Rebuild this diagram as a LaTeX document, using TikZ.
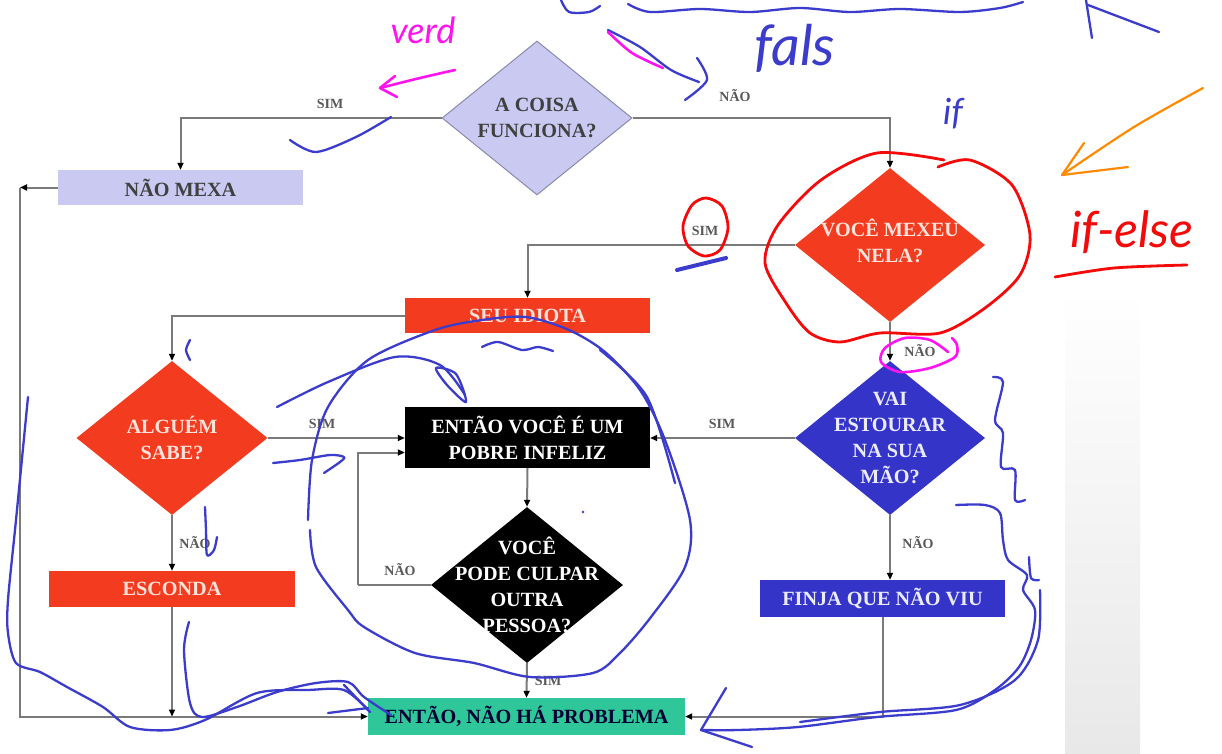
\documentclass[tikz,border=0pt]{standalone}
\usepackage{fontspec}
\setmainfont{Liberation Serif}
\newfontfamily\hand{Lato}
\usetikzlibrary{shapes.geometric,arrows.meta}
\definecolor{lav}{HTML}{C9C9F2}
\definecolor{lavline}{HTML}{8A8AAA}
\definecolor{redb}{HTML}{F23B1F}
\definecolor{blueb}{HTML}{3434C8}
\definecolor{teal}{HTML}{2FC79A}
\definecolor{conncol}{HTML}{7A7A7A}
\definecolor{pen}{HTML}{3C3CCC}
\definecolor{mag}{HTML}{FF14F0}
\definecolor{penred}{HTML}{F50A0A}
\definecolor{penor}{HTML}{FF8A00}
\definecolor{pinkw}{HTML}{FFE2DA}
\tikzset{
  boxsty/.style={rectangle,draw=none,inner sep=0pt},
  diasty/.style={diamond,draw=none,inner sep=0pt},
  big/.style={font=\fontsize{20.2}{26}\selectfont\bfseries,align=center,inner sep=0pt},
  small/.style={font=\fontsize{14}{16}\selectfont\bfseries,text=black!65,inner sep=0pt},
  conn/.style={draw=conncol,line width=2pt,-{Triangle[length=7pt,width=6pt,color=black]}},
  plain/.style={draw=conncol,line width=2pt},
  bluepen/.style={draw=pen,line width=2.3pt,line cap=round,line join=round},
  magpen/.style={draw=mag,line width=2.6pt,line cap=round,line join=round},
  redpen/.style={draw=penred,line width=2.8pt,line cap=round,line join=round},
  orpen/.style={draw=penor,line width=2.2pt,line cap=round,line join=round},
}
\begin{document}
\begin{tikzpicture}[x=1pt,y=-1pt]
\useasboundingbox (0,0) rectangle (1222,754);
\fill[white] (0,0) rectangle (1222,754);
% grey panel on the right
\shade[top color=white,bottom color=black!9] (1065,290) rectangle (1140,754);

% ---------- shapes ----------
\node[diasty,fill=lav,draw=lavline,line width=1pt,minimum width=190pt,minimum height=154pt] (coisa) at (537,118) {};
\node[big,text=black!75] (coisaT) at (coisa.center) {A COISA\\FUNCIONA?};
\node[boxsty,fill=lav,minimum width=245pt,minimum height=35pt] (naomexa) at (180.5,187.5) {};
\node[big,text=black!75] (naomexaT) at (naomexa.center) {NÃO MEXA};

\node[diasty,fill=redb,minimum width=190pt,minimum height=154pt] (mexeu) at (890,245) {};
\node[big,text=pinkw] (mexeuT) at ([yshift=4pt]mexeu.center) {VOCÊ MEXEU\\NELA?};

\node[boxsty,fill=redb,minimum width=245pt,minimum height=35pt] (idiota) at (527.5,315.5) {};
\node[big,text=pinkw] (idiotaT) at (idiota.center) {SEU IDIOTA};

\node[diasty,fill=redb,minimum width=191pt,minimum height=154pt] (alguem) at (172,438) {};
\node[big,text=pinkw] (alguemT) at (alguem.center) {ALGUÉM\\SABE?};

\node[boxsty,fill=black,minimum width=245pt,minimum height=61pt] (infeliz) at (527.5,437.5) {};
\node[big,text=white] (infelizT) at (infeliz.center) {ENTÃO VOCÊ É UM\\POBRE INFELIZ};

\node[diasty,fill=blueb,minimum width=190pt,minimum height=154pt] (vai) at (890,438) {};
\node[big,text=white!92!blue] (vaiT) at (vai.center) {VAI\\ESTOURAR\\NA SUA\\MÃO?};

\node[diasty,fill=black,minimum width=192pt,minimum height=156pt] (culpar) at (527,585) {};
\node[big,text=white] (culparT) at (culpar.center) {VOCÊ\\PODE CULPAR\\OUTRA\\PESSOA?};

\node[boxsty,fill=redb,minimum width=246pt,minimum height=36pt] (esconda) at (172,589) {};
\node[big,text=pinkw] (escondaT) at (esconda.center) {ESCONDA};

\node[boxsty,fill=blueb,minimum width=245pt,minimum height=37pt] (finja) at (882.5,598.5) {};
\node[big,text=white!92!blue] (finjaT) at (finja.center) {FINJA QUE NÃO VIU};

\node[boxsty,fill=teal,minimum width=317pt,minimum height=37pt] (problema) at (526.5,716.5) {};
\node[big,text=black!80!blue] (problemaT) at (problema.center) {ENTÃO, NÃO HÁ PROBLEMA};

% ---------- connectors ----------
\coordinate (cTL) at (20,187.5);
\coordinate (loopx) at (358,585);
\draw[conn] (coisa.west) -| (naomexa.north);
\draw[conn] (coisa.east) -| (mexeu.north);
\draw[conn] (mexeu.west) -| (idiota.north);
\draw[conn] (idiota.west) -| (alguem.north);
\draw[conn] (alguem.east) -- (infeliz.west |- alguem.east);
\draw[conn] (mexeu.south) -- (vai.north);
\draw[conn] (vai.west) -- (infeliz.east |- vai.west);
\draw[conn] (vai.south) -- (vai.south |- finja.north);
\draw[conn] (finja.south) |- (problema.east);
\draw[conn] (infeliz.south) -- (culpar.north);
\draw[plain] (culpar.west) -- (loopx);
\draw[conn] (loopx) |- ([yshift=-15pt]infeliz.west);
\draw[conn] (culpar.south) -- (problema.north);
\draw[conn] (alguem.south) -- (esconda.north);
\draw[conn] (esconda.south) -- (esconda.south |- problema.west);
\draw[conn] (naomexa.west) -- (cTL);
\draw[conn] (cTL) |- (problema.west);

% ---------- branch labels ----------
\node[small] (l1) at (330,104) {SIM};
\node[small] (l2) at (735,96) {NÃO};
\node[small] (l3) at (705,231) {SIM};
\node[small] (l4) at (920,351) {NÃO};
\node[small] (l5) at (322,424) {SIM};
\node[small] (l6) at (722,424) {SIM};
\node[small] (l7) at (918,543) {NÃO};
\node[small] (l8) at (195,543) {NÃO};
\node[small] (l9) at (400,570) {NÃO};
\node[small] (l10) at (548,681) {SIM};

% ---------- handwritten annotations ----------
\node[text=mag,font=\hand\itshape\fontsize{36}{36}\selectfont] (hverd) at (423,30) {verd};
\node[text=pen,font=\hand\itshape\fontsize{56}{56}\selectfont] (hfals) at (795,48) {fals};
\node[text=pen,font=\hand\itshape\fontsize{36}{36}\selectfont] (hif) at (953,114) {if};
\node[text=penred,font=\hand\itshape\fontsize{50}{50}\selectfont] (hifelse) at (1132,232) {if-else};

% magenta arrow near verd
\draw[magpen] plot[smooth] coordinates {(455,70) (420,78) (380,88)};
\draw[magpen] (395,76) -- (380,88) -- (397,97);
% blue curve under SIM
\draw[bluepen] plot[smooth] coordinates {(391,117) (356,137) (316,152) (290,140)};
% arrow toward top NÃO
\draw[bluepen] plot[smooth] coordinates {(608,30) (640,47) (671,70) (699,82)};
\draw[bluepen] plot[smooth] coordinates {(697,58) (707,80) (685,100)};
\draw[magpen] plot[smooth] coordinates {(608,32) (632,53) (663,68)};
% top scribbles
\draw[bluepen] plot[smooth] coordinates {(561,0) (569,12) (589,12) (600,6)};
\draw[bluepen] plot[smooth] coordinates {(628,4) (650,12) (700,9) (750,12) (800,8) (850,12) (900,9) (960,12) (1000,8) (1023,2)};
\draw[bluepen] (1086,0) -- (1092,38);
\draw[bluepen] (1088,5) -- (1159,32);
% orange arrow
\draw[orpen] plot[smooth] coordinates {(1203,88) (1134,127) (1062,175)};
\draw[orpen] (1084,143) -- (1062,175) -- (1128,167);
% if-else underline
\draw[redpen] plot[smooth] coordinates {(1055,277) (1114,268) (1187,265)};
% red circle around VOCE MEXEU
\draw[redpen] plot[smooth] coordinates {(944,160) (877,153) (821,180) (778,225) (765,263) (786,303) (810,333) (840,342) (880,333) (940,333) (985,308) (1020,275) (1030,235) (1012,185) (970,160) (938,167)};
% red ring around SIM
\draw[redpen] plot[smooth cycle] coordinates {(706,198) (722,206) (728,228) (720,250) (704,256) (688,246) (683,226) (692,205)};
% blue dash below SIM
\draw[bluepen,line width=4pt] (677,270) -- (726,258);
% magenta ring around NÃO
\draw[magpen] plot[smooth] coordinates {(948,352) (930,340) (905,338) (885,348) (881,362) (900,372) (930,368) (955,357) (957,345) (952,338)};
% brace right of VAI
\draw[bluepen] plot[smooth] coordinates {(993,377) (1003,382) (995,420) (1003,433) (1001,467) (1015,470) (1015,500) (1025,500)};
% big loop around ENTÃO VOCE / VOCE PODE
\draw[bluepen] plot[smooth] coordinates {(308,520) (312,460) (328,407) (368,360) (435,330) (482,320) (526,317) (569,330) (605,352) (640,390) (665,440) (690,520) (685,567) (651,617) (620,653) (593,673) (530,677) (474,663) (415,653) (364,627) (348,610) (316,567) (310,530)};
\draw[bluepen] plot[smooth] coordinates {(600,350) (647,397) (675,483)};
% inner stroke with loop
\draw[bluepen] plot[smooth] coordinates {(277,407) (328,382) (395,357) (440,365) (465,395)};
\draw[bluepen] plot[smooth cycle] coordinates {(466,402) (447,385) (436,368) (456,374)};
% stroke right of ALGUEM
\draw[bluepen] plot[smooth] coordinates {(273,463) (300,460) (330,455) (344,457) (340,462) (324,473)};
% small marks
\draw[bluepen] plot[smooth] coordinates {(190,340) (186,350) (190,360)};
\draw[bluepen] plot[smooth] coordinates {(482,347) (498,342) (522,350) (538,347) (553,351)};
\draw[bluepen] plot[smooth] coordinates {(205,507) (206,530) (207,555) (214,550) (217,537)};
\fill[pen] (583,512) circle (1.3pt);
% long left stroke to bottom
\draw[bluepen] plot[smooth] coordinates {(28,397) (16,520) (8,600) (8,633) (16,663) (40,672) (67,687) (103,707) (130,727) (170,730) (205,720) (257,693) (308,690) (344,690) (368,710)};
% stroke below ESCONDA
\draw[bluepen] plot[smooth] coordinates {(189,622) (184,650) (190,703) (202,717) (237,707) (277,692) (316,683) (348,682) (364,697) (391,715)};
\draw[bluepen] (344,685) -- (370,712);
\draw[bluepen] (328,713) -- (368,708);
% right stroke to bottom arrow
\draw[bluepen] plot[smooth] coordinates {(956,505) (985,505) (1000,513) (1003,540) (1008,560) (1027,575) (1023,590) (1035,610) (1031,640) (1019,667) (995,690) (956,710) (877,717) (798,727) (738,730) (701,730)};
\draw[bluepen] plot[smooth] coordinates {(1029,557) (1031,578) (1039,580)};
\draw[bluepen] plot[smooth] coordinates {(1040,590) (1038,640) (1015,680) (960,705) (880,712) (800,722)};
\draw[bluepen] (726,688) -- (701,730) -- (752,747);
\end{tikzpicture}
\end{document}
